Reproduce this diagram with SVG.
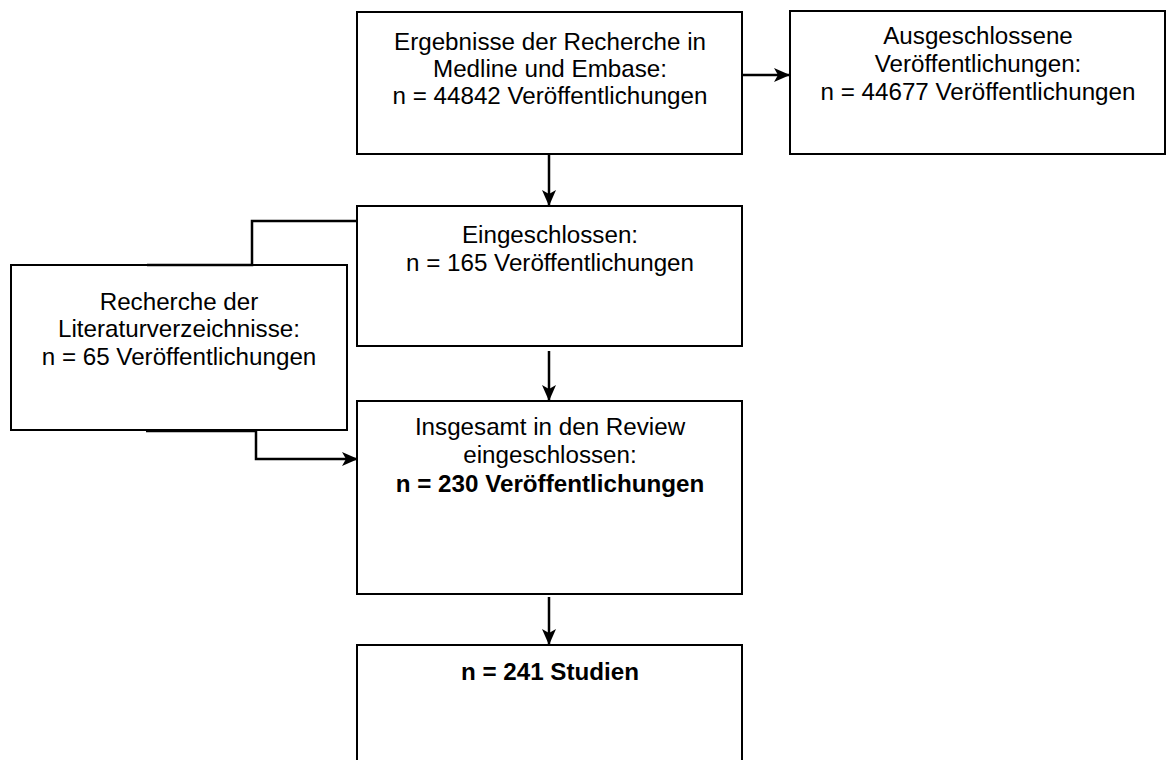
<svg xmlns="http://www.w3.org/2000/svg" width="1168" height="760" viewBox="0 0 1168 760">
<style>
.box{fill:#fff;stroke:#000;stroke-width:2}
.t{font-family:"Liberation Sans",Arial,sans-serif;font-size:24.2px;fill:#000;text-anchor:middle}
.b{font-weight:bold}
.c{fill:none;stroke:#000;stroke-width:2.5}
</style>
<defs>
<marker id="ah" viewBox="0 0 16 14" refX="15" refY="7" markerWidth="16" markerHeight="14" markerUnits="userSpaceOnUse" orient="auto">
<path d="M0,0 L16,7 L0,14 L4,7 Z" fill="#000"/>
</marker>
</defs>
<rect width="1168" height="760" fill="#fff"/>
<g id="n1">
<rect class="box" x="357" y="12" width="385" height="142"/>
<text class="t" x="550" y="50">Ergebnisse der Recherche in</text>
<text class="t" x="550" y="77">Medline und Embase:</text>
<text class="t" x="550" y="104">n = 44842 Veröffentlichungen</text>
</g>
<g id="n2">
<rect class="box" x="790" y="11" width="375" height="143"/>
<text class="t" x="978" y="44">Ausgeschlossene</text>
<text class="t" x="978" y="72">Veröffentlichungen:</text>
<text class="t" x="978" y="100">n = 44677 Veröffentlichungen</text>
</g>
<g id="n3">
<rect class="box" x="357" y="206" width="385" height="140"/>
<text class="t" x="550" y="243">Eingeschlossen:</text>
<text class="t" x="550" y="271">n = 165 Veröffentlichungen</text>
</g>
<g id="n4">
<rect class="box" x="11" y="265" width="336" height="165"/>
<text class="t" x="179" y="310">Recherche der</text>
<text class="t" x="179" y="337">Literaturverzeichnisse:</text>
<text class="t" x="179" y="365">n = 65 Veröffentlichungen</text>
</g>
<g id="n5">
<rect class="box" x="357" y="401" width="385" height="193"/>
<text class="t" x="550" y="435">Insgesamt in den Review</text>
<text class="t" x="550" y="463">eingeschlossen:</text>
<text class="t b" x="550" y="492">n = 230 Veröffentlichungen</text>
</g>
<g id="n6">
<rect class="box" x="357" y="645" width="385" height="130"/>
<text class="t b" x="550" y="680">n = 241 Studien</text>
</g>
<g id="connectors">
<path class="c" d="M549,154 L549,205" marker-end="url(#ah)"/>
<path class="c" d="M742,75 L789,75" marker-end="url(#ah)"/>
<path class="c" d="M549,351 L549,400" marker-end="url(#ah)"/>
<path class="c" d="M549,597 L549,644" marker-end="url(#ah)"/>
<path class="c" d="M147,265 L252,265 L252,221 L357,221"/>
<path class="c" d="M146,431 L256,431 L256,459 L357,459" marker-end="url(#ah)"/>
</g>
</svg>
